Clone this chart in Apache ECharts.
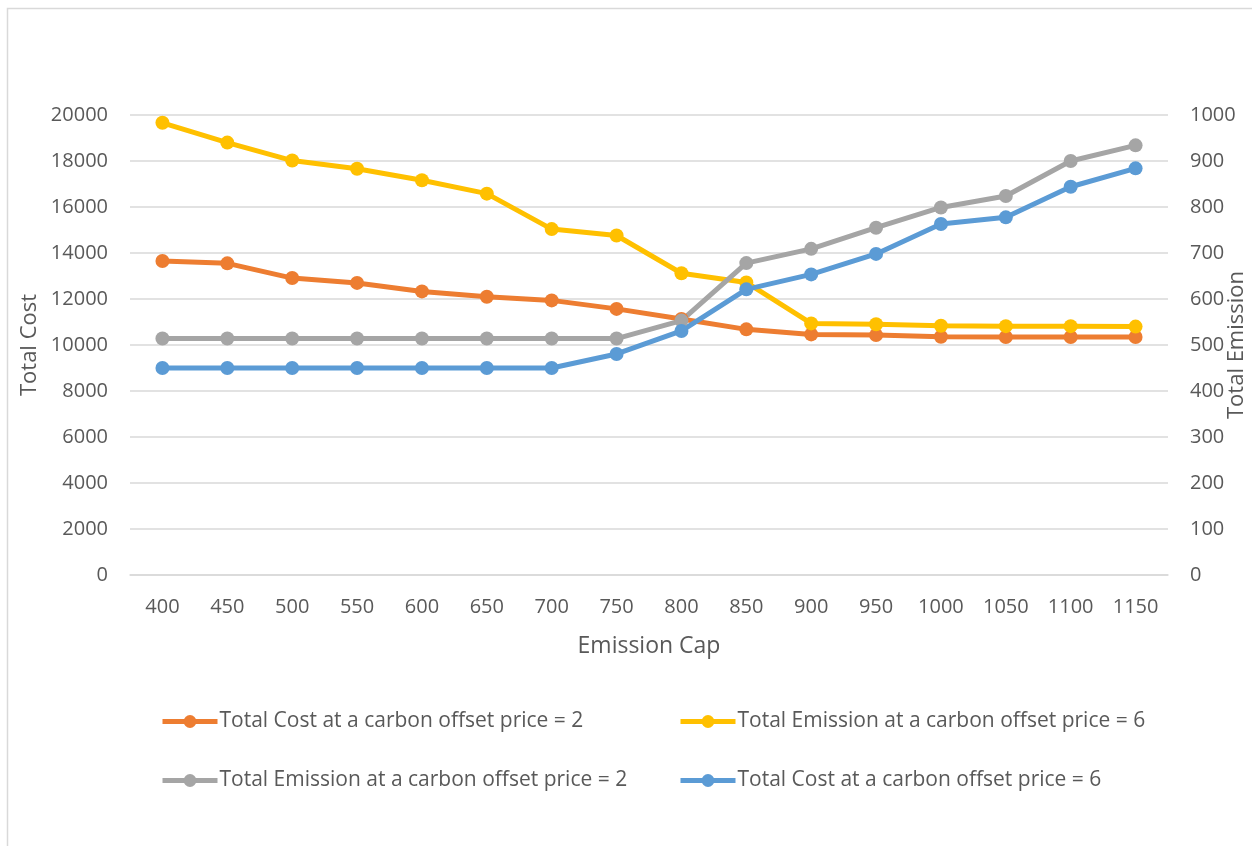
<!DOCTYPE html>
<html>
<head>
<meta charset="utf-8">
<title>Total Cost and Total Emission by Emission Cap</title>
<script src="https://cdn.jsdelivr.net/npm/echarts@6/dist/echarts.min.js"></script>
<style>
  html, body { margin: 0; padding: 0; background: #ffffff; }
  #chart { width: 1252px; height: 846px; }
</style>
</head>
<body>
<div id="chart"></div>
<script>
// Emission cap categories
const emissionCaps = ['400', '450', '500', '550', '600', '650', '700', '750', '800', '850', '900', '950', '1000', '1050', '1100', '1150'];

// Total cost (left axis)
const totalCostPrice2 = [13650, 13550, 12910, 12700, 12330, 12100, 11940, 11570, 11130, 10680, 10460, 10430, 10360, 10350, 10350, 10350];
const totalCostPrice6 = [9000, 9000, 9000, 9000, 9000, 9000, 9000, 9610, 10610, 12420, 13070, 13960, 15260, 15550, 16880, 17680];

// Total emission (right axis)
const totalEmissionPrice6 = [983, 940, 901, 883, 858, 829, 752, 738, 656, 636, 547, 545, 542, 541, 541, 540];
const totalEmissionPrice2 = [514, 514, 514, 514, 514, 514, 514, 514, 553, 678, 709, 755, 799, 824, 900, 934];

// Series names
const nameCost2 = 'Total Cost at a carbon offset price = 2';
const nameEmis6 = 'Total Emission at a carbon offset price = 6';
const nameEmis2 = 'Total Emission at a carbon offset price = 2';
const nameCost6 = 'Total Cost at a carbon offset price = 6';

const FONT = '"Open Sans", "Noto Sans", sans-serif';
const TEXT = '#595959';
const GRID = '#d9d9d9';

const chart = echarts.init(document.getElementById('chart'), null, { renderer: 'canvas' });

function lineSeries(name, data, color, axisIndex) {
  return {
    name: name,
    type: 'line',
    yAxisIndex: axisIndex,
    data: data,
    symbol: 'circle',
    symbolSize: 14,
    lineStyle: { color: color, width: 5 },
    itemStyle: { color: color },
    emphasis: { disabled: true },
    animation: false
  };
}

function legendAt(name, left, top) {
  return {
    data: [name],
    left: left,
    top: top,
    padding: 0,
    itemWidth: 55,
    itemHeight: 16,
    itemGap: 0,
    selectedMode: false,
    lineStyle: { width: 5 },
    textStyle: { fontFamily: FONT, fontSize: 21, color: TEXT, padding: [0, 0, 0, -3] }
  };
}

const plainNumber = (v) => String(v);

chart.setOption({
  backgroundColor: '#ffffff',
  animation: false,
  graphic: [{
    type: 'rect',
    shape: { x: 7.5, y: 8.5, width: 1400, height: 1000 },
    style: { fill: 'none', stroke: GRID, lineWidth: 1.5 },
    silent: true
  }],
  grid: { left: 130, right: 84, top: 115, bottom: 271, containLabel: false, outerBoundsMode: 'none' },
  legend: [
    legendAt(nameCost2, 160, 711),
    legendAt(nameEmis6, 678, 711),
    legendAt(nameEmis2, 160, 770),
    legendAt(nameCost6, 678, 770)
  ],
  xAxis: {
    type: 'category',
    data: emissionCaps,
    boundaryGap: true,
    name: 'Emission Cap',
    nameLocation: 'middle',
    nameGap: 60,
    nameMoveOverlap: false,
    nameTextStyle: { fontFamily: FONT, fontSize: 23, color: TEXT },
    axisLine: { show: true, lineStyle: { color: GRID, width: 1.5 } },
    axisTick: { show: false },
    axisLabel: { fontFamily: FONT, fontSize: 20, color: TEXT, margin: 22, interval: 0 },
    splitLine: { show: false }
  },
  yAxis: [{
    type: 'value',
    min: 0,
    max: 20000,
    interval: 2000,
    name: 'Total Cost',
    nameLocation: 'middle',
    nameRotate: 90,
    nameGap: 89,
    nameMoveOverlap: false,
    nameTextStyle: { fontFamily: FONT, fontSize: 22, color: TEXT },
    axisLine: { show: false },
    axisTick: { show: false },
    axisLabel: { fontFamily: FONT, fontSize: 20, color: TEXT, margin: 22, formatter: plainNumber },
    splitLine: { show: true, lineStyle: { color: GRID, width: 1.5 } }
  }, {
    type: 'value',
    position: 'right',
    min: 0,
    max: 1000,
    interval: 100,
    name: 'Total Emission',
    nameLocation: 'middle',
    nameRotate: 90,
    nameGap: 58,
    nameMoveOverlap: false,
    nameTextStyle: { fontFamily: FONT, fontSize: 22, color: TEXT },
    axisLine: { show: false },
    axisTick: { show: false },
    axisLabel: { fontFamily: FONT, fontSize: 20, color: TEXT, margin: 22, formatter: plainNumber },
    splitLine: { show: false }
  }],
  series: [
    lineSeries(nameCost2, totalCostPrice2, '#ED7D31', 0),
    lineSeries(nameEmis6, totalEmissionPrice6, '#FFC000', 1),
    lineSeries(nameEmis2, totalEmissionPrice2, '#A5A5A5', 1),
    lineSeries(nameCost6, totalCostPrice6, '#5B9BD5', 0)
  ]
});
</script>
</body>
</html>
